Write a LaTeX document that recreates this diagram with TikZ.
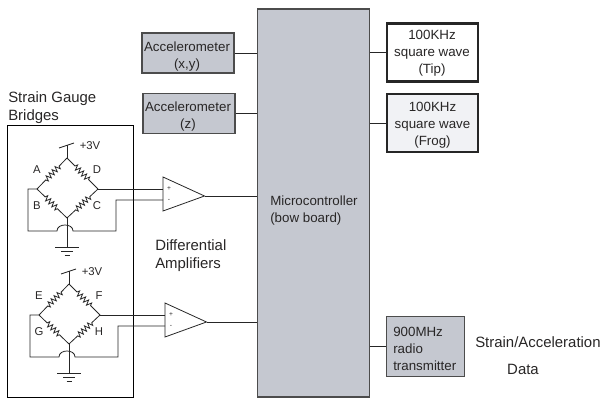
\documentclass[tikz,border=0pt]{standalone}
\usepackage{fontspec}
\setmainfont{Liberation Sans}
\usetikzlibrary{positioning,decorations.pathmorphing}
\definecolor{boxgray}{RGB}{197,200,208}
\definecolor{palegray}{RGB}{241,242,245}
\definecolor{inkgray}{RGB}{40,38,38}
\tikzset{
  txt/.style={font=\fontsize{10}{12.75}\selectfont,text=inkgray,inner sep=0pt,align=center},
  bigtxt/.style={font=\fontsize{11.2}{13.5}\selectfont,text=inkgray,inner sep=0pt,align=left},
  lbl/.style={font=\fontsize{8.5}{10}\selectfont,text=inkgray,inner sep=0pt},
  sgn/.style={font=\fontsize{5}{6}\selectfont,text=inkgray,inner sep=0pt},
  gbox/.style={draw=black!70,fill=boxgray,line width=0.8pt,inner sep=0pt},
  wavebox/.style={draw=black!85,line width=1.6pt,inner sep=0pt},
  wire/.style={line width=0.6pt,black!85},
  resis/.style={wire,decorate,decoration={zigzag,amplitude=2pt,segment length=3.2pt,pre length=8.5pt,post length=8.5pt}},
}
\begin{document}
\begin{tikzpicture}[x=0.75pt,y=-0.75pt]
  \useasboundingbox (0,0) rectangle (602,398);
  % main blocks
  \node[gbox,minimum width=83.5pt,minimum height=291pt] (micro) at (313.5,203) {};
  \node[txt,align=left,anchor=west] (microlbl) at (270,211) {Microcontroller\\(bow board)};
  \node[gbox,minimum width=69pt,minimum height=30pt] (accxy) at (188,53) {};
  \node[txt] (accxylbl) at (187,57) {Accelerometer\\(x,y)};
  \node[gbox,minimum width=69pt,minimum height=29.5pt] (accz) at (189,113.5) {};
  \node[txt] (acczlbl) at (188,116.5) {Accelerometer\\(z)};
  \node[wavebox,fill=white,minimum width=68pt,minimum height=43.5pt] (sqtip) at (432.5,52.5) {};
  \node[txt] (sqtiplbl) at (432,53.5) {100KHz\\square wave\\(Tip)};
  \node[wavebox,fill=palegray,minimum width=68pt,minimum height=43.5pt] (sqfrog) at (432.5,123) {};
  \node[txt] (sqfroglbl) at (432.5,125) {100KHz\\square wave\\(Frog)};
  \node[gbox,minimum width=59pt,minimum height=45.5pt] (radio) at (425.5,346.5) {};
  \node[txt,align=left,anchor=west] (radiolbl) at (393,348.5) {900MHz\\radio\\transmitter};
  \draw[wire] (accxy.east) -- (accxy.east -| micro.west);
  \draw[wire] (accz.east) -- (accz.east -| micro.west);
  \draw[wire] (sqtip.west) -- (sqtip.west -| micro.east);
  \draw[wire] (sqfrog.west) -- (sqfrog.west -| micro.east);
  \draw[wire] (radio.west) -- (radio.west -| micro.east);
  % strain gauge box
  \node[draw=black,line width=0.7pt,inner sep=0pt,minimum width=94.5pt,minimum height=204pt] (gaugebox) at (70,261) {};
  \node[bigtxt,anchor=west] (gaugelbl) at (8,107.5) {Strain Gauge\\Bridges};
  \node[bigtxt,anchor=west] (amplbl) at (155,256) {Differential\\Amplifiers};
  \node[bigtxt,anchor=west] (strainlbl) at (475,342) {Strain/Acceleration};
  \node[bigtxt] (datalbl) at (523,369) {Data};
  % the two bridges
  \foreach \k/\dx/\dy/\la/\lb/\lc/\ld in {1/0/0/A/D/B/C, 2/2/126/E/F/G/H}{
    \begin{scope}[shift={(\dx,\dy)}]
      \coordinate (top\k) at (67,158);
      \coordinate (lft\k) at (37,189);
      \coordinate (rgt\k) at (98,189);
      \coordinate (bot\k) at (67,218);
      \coordinate (sup\k) at (67,145);
      \coordinate (gnd\k) at (67,247);
      \draw[resis] (top\k) -- (lft\k);
      \draw[resis] (top\k) -- (rgt\k);
      \draw[resis] (lft\k) -- (bot\k);
      \draw[resis] (rgt\k) -- (bot\k);
      \draw[wire] (top\k) -- (sup\k);
      \draw[wire] (59,148) -- (74,143);
      \draw[wire] (bot\k) -- (gnd\k);
      \draw[wire] (55,247) -- (79,247) (61,251) -- (73,251) (64.5,255) -- (69.5,255);
      \node[lbl] (sup\k lbl) at (90,146) {+3V};
      \node[lbl] (a\k) at (37,170) {\la};
      \node[lbl] (b\k) at (97,170) {\lb};
      \node[lbl] (c\k) at (37,206) {\lc};
      \node[lbl] (d\k) at (97,206) {\ld};
      % amplifier
      \coordinate (ampa\k) at (163,177);
      \coordinate (ampb\k) at (163,211);
      \coordinate (ampt\k) at (204.5,196);
      \coordinate (inp\k) at (163,189);
      \coordinate (inn\k) at (163,200);
      \draw[wire] (ampa\k) -- (ampt\k) -- (ampb\k) -- cycle;
      \node[sgn] (plus\k) at (169,189) {+};
      \node[sgn] (minus\k) at (169,200) {-};
      \draw[wire] (ampt\k) -- (ampt\k -| micro.west);
      \draw[wire] (rgt\k) -- (inp\k);
      \draw[wire] (lft\k) -- (28,189) -- (28,231) -- (57,231)
        .. controls (57,223) and (73,223) .. (73,231) -- (116,231) -- (116,200) -- (inn\k);
    \end{scope}
  }
\end{tikzpicture}
\end{document}
